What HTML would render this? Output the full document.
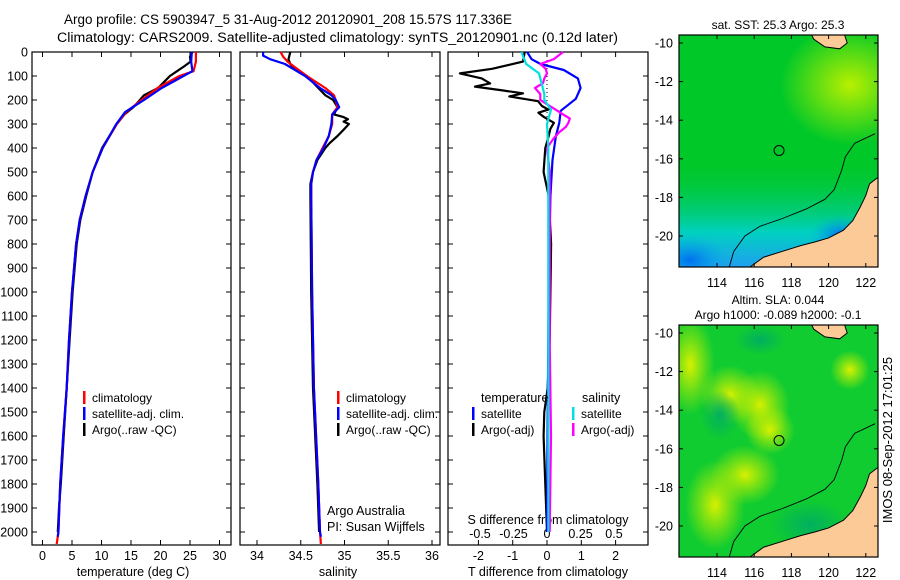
<!DOCTYPE html>
<html><head><meta charset="utf-8"><style>
html,body{margin:0;padding:0;background:#fff;}
svg{display:block;font-family:"Liberation Sans",sans-serif;}
</style></head><body>
<svg id="fig" width="900" height="580" viewBox="0 0 900 580">
<defs>
<radialGradient id="g1" cx="0.5" cy="0.5" r="0.5"><stop offset="0" stop-color="#b8f000"/><stop offset="1" stop-color="#b8f000" stop-opacity="0"/></radialGradient>
<radialGradient id="g2" cx="0.5" cy="0.5" r="0.5"><stop offset="0" stop-color="#0070f0"/><stop offset="1" stop-color="#00b0e0" stop-opacity="0"/></radialGradient>
<radialGradient id="g3" cx="0.5" cy="0.5" r="0.5"><stop offset="0" stop-color="#d8f000"/><stop offset="1" stop-color="#c0f000" stop-opacity="0"/></radialGradient>
<radialGradient id="g4" cx="0.5" cy="0.5" r="0.5"><stop offset="0" stop-color="#00b060"/><stop offset="1" stop-color="#00b060" stop-opacity="0"/></radialGradient>
<linearGradient id="lg1" x1="0" y1="0" x2="0" y2="1"><stop offset="0.55" stop-color="#00c840" stop-opacity="0"/><stop offset="0.85" stop-color="#00d0c0"/><stop offset="1" stop-color="#20a0f0"/></linearGradient>
<clipPath id="c1"><rect x="679" y="35" width="199" height="232"/></clipPath>
<clipPath id="c2"><rect x="679" y="325" width="199" height="232"/></clipPath>
</defs>
<g font-size="13.5">
<text x="64" y="24" textLength="448" lengthAdjust="spacingAndGlyphs">Argo profile: CS 5903947_5 31-Aug-2012 20120901_208 15.57S 117.336E</text>
<text x="57" y="42" textLength="561" lengthAdjust="spacingAndGlyphs">Climatology: CARS2009. Satellite-adjusted climatology: synTS_20120901.nc (0.12d later)</text>
</g>
<g id="plots"></g>
<g id="maps"></g>
<text x="892" y="440" font-size="13" text-anchor="middle" transform="rotate(-90 892 440)">IMOS 08-Sep-2012 17:01:25</text>
</svg>
<script>
const depthTicks=[0,100,200,300,400,500,600,700,800,900,1000,1100,1200,1300,1400,1500,1600,1700,1800,1900,2000];
const tTicks=[0,5,10,15,20,25,30];
const sTicks=[34,34.5,35,35.5,36];
const sTickLabels=["34","34.5","35","35.5","36"];
const dTTicks=[-2,-1,0,1,2];
const dSTicks=[-0.5,-0.25,0,0.25,0.5];
const dSTickLabels=["-0.5","-0.25","0","0.25","0.5"];
// temperature profiles
const tClimDepth=[0,40,80,100,150,200,250,300,400,500,600,700,800,1000,1200,1400,1600,1800,2000,2050];
const tClim=[26,26,25.6,23.2,19.5,16.8,14.2,12.6,10.2,8.5,7.3,6.3,5.7,5.0,4.5,4.1,3.5,3.0,2.7,2.4];
const tSatDepth=[0,40,80,100,150,200,250,300,400,500,600,700,800,1000,1200,1400,1600,1800,2000,2020];
const tSat=[25.3,25.2,25.4,23.9,20.2,17.2,14.0,12.5,10.2,8.5,7.3,6.3,5.7,5.0,4.5,4.1,3.5,3.0,2.7,2.6];
const tArgoDepth=[0,20,40,60,80,100,120,150,180,200,230,260,300,400,500,600,700,800,1000,1200,1400,1600,1800,1900,2000];
const tArgo=[25.4,25.0,25.1,24.0,22.8,21.6,20.8,19.6,17.2,16.5,15.4,13.9,12.6,10.1,8.5,7.4,6.4,5.8,5.1,4.6,4.1,3.6,3.1,2.8,2.6];
// salinity profiles
const sClimDepth=[0,20,40,60,100,150,180,200,230,260,300,350,400,450,500,550,600,1000,1400,1800,2000,2050];
const sClim=[34.27,34.3,34.35,34.42,34.57,34.78,34.88,34.9,34.92,34.86,34.86,34.82,34.75,34.68,34.64,34.62,34.62,34.63,34.65,34.7,34.72,34.73];
const sSatDepth=[0,15,30,50,100,150,180,200,230,260,300,350,400,450,500,550,600,1000,1400,1800,2000,2020];
const sSat=[34.07,34.07,34.15,34.32,34.55,34.72,34.85,34.9,34.94,34.86,34.85,34.82,34.76,34.68,34.64,34.62,34.62,34.63,34.65,34.7,34.72,34.73];
const sArgoDepth=[0,30,50,70,100,150,180,200,230,260,270,280,290,300,320,350,380,400,450,500,550,600,1000,1400,1800,2000];
const sArgo=[34.38,34.36,34.38,34.43,34.57,34.7,34.78,34.87,34.92,34.88,34.98,35.04,34.99,35.05,35.0,34.92,34.83,34.78,34.69,34.64,34.61,34.61,34.62,34.64,34.69,34.71];
// T differences
const dTArgoDepth=[0,40,70,89,110,131,144,160,172,185,205,225,240,253,270,295,320,350,400,500,600,800,1000,1200,1400,1500,1600,1800,2000];
const dTArgo=[-0.65,-0.7,-1.6,-2.54,-1.9,-1.66,-2.1,-1.3,-0.7,-1.1,-0.26,-0.15,0.04,-0.25,-0.1,0.2,0.1,0.05,-0.05,-0.1,0.05,0.12,0.1,0.08,0.02,-0.08,-0.1,-0.05,0];
const dTSatDepth=[0,30,50,75,110,150,195,245,295,350,450,600,1000,1500,2000];
const dTSat=[-0.58,-0.45,-0.19,0.49,0.9,0.98,0.84,0.4,0.36,0.26,0.16,0.1,0.05,0.02,0];
// S differences
const dSSatDepth=[0,30,50,89,130,175,200,240,300,400,600,1000,1500,2000];
const dSSat=[-0.19,-0.17,-0.155,-0.06,-0.04,-0.02,-0.02,0.03,0,0.01,0.01,0.01,0.01,0.01];
const dSArgoDepth=[0,30,50,70,89,110,130,150,175,200,235,260,277,295,312,335,360,400,500,800,1200,1600,2000];
const dSArgo=[0.12,0.05,-0.05,-0.01,0,-0.02,-0.03,-0.09,-0.05,-0.05,0.05,0.12,0.17,0.16,0.14,0.09,0.05,0,0.02,0.02,0.02,0.03,0.02];

const NS="http://www.w3.org/2000/svg";
const root=document.getElementById('plots');
function el(tag,attrs,parent){const e=document.createElementNS(NS,tag);for(const k in attrs)e.setAttribute(k,attrs[k]);(parent||root).appendChild(e);return e;}
const yTop=52,yBot=545;
function yD(d){return yTop+d*0.24;}
const panels=[
 {x0:32,x1:231,fx:v=>42.5+v*5.9,name:'temperature-panel'},
 {x0:240,x1:440,fx:v=>257+(v-34)*87.5,name:'salinity-panel'},
 {x0:448,x1:648,fx:v=>547+v*34.3,name:'t-difference-panel'}
];
const fS=v=>547+v*134;
function line(xs,ds,fx,color,name,g){
 let p='';for(let i=0;i<xs.length;i++){p+=(i?'L':'M')+fx(xs[i]).toFixed(1)+','+yD(ds[i]).toFixed(1);}
 const e=el('path',{d:p,fill:'none',stroke:color,'stroke-width':2.2,'stroke-linejoin':'round'},g);
 
 
}
panels.forEach((P,pi)=>{
 const g=el('g',{});
 
 
 el('rect',{x:P.x0,y:yTop,width:P.x1-P.x0,height:yBot-yTop,fill:'none',stroke:'#000','stroke-width':1.2},g);
 depthTicks.forEach(d=>{
  el('line',{x1:P.x0,x2:P.x0+5,y1:yD(d),y2:yD(d),stroke:'#000'},g);
  el('line',{x1:P.x1,x2:P.x1-5,y1:yD(d),y2:yD(d),stroke:'#000'},g);
  if(pi===0){const t=el('text',{x:P.x0-4,y:yD(d)+4.5,'font-size':12.5,'text-anchor':'end'},g);t.textContent=d;
   
   }
 });
});
const gp=root.children;
tTicks.forEach(v=>{const x=panels[0].fx(v);el('line',{x1:x,x2:x,y1:yBot,y2:yBot-5,stroke:'#000'},gp[0]);el('line',{x1:x,x2:x,y1:yTop,y2:yTop+5,stroke:'#000'},gp[0]);
 const t=el('text',{x:x,y:560,'font-size':12.5,'text-anchor':'middle'},gp[0]);t.textContent=v;});
sTicks.forEach((v,i)=>{const x=panels[1].fx(v);el('line',{x1:x,x2:x,y1:yBot,y2:yBot-5,stroke:'#000'},gp[1]);el('line',{x1:x,x2:x,y1:yTop,y2:yTop+5,stroke:'#000'},gp[1]);
 const t=el('text',{x:x,y:560,'font-size':12.5,'text-anchor':'middle'},gp[1]);t.textContent=sTickLabels[i];});
dTTicks.forEach(v=>{const x=panels[2].fx(v);el('line',{x1:x,x2:x,y1:yBot,y2:yBot-5,stroke:'#000'},gp[2]);el('line',{x1:x,x2:x,y1:yTop,y2:yTop+5,stroke:'#000'},gp[2]);
 const t=el('text',{x:x,y:560,'font-size':12.5,'text-anchor':'middle'},gp[2]);t.textContent=v;});
dSTicks.forEach((v,i)=>{const t=el('text',{x:fS(v),y:538,'font-size':12.5,'text-anchor':'middle'},gp[2]);t.textContent=dSTickLabels[i];});
function lbl(x,y,s,name,g,anchor){const t=el('text',{x:x,y:y,'font-size':12.5,'text-anchor':anchor||'middle'},g);t.textContent=s;
 
 }
lbl(133,576,'temperature (deg C)','x-axis-title-temperature',gp[0]);
lbl(338,576,'salinity','x-axis-title-salinity',gp[1]);
lbl(548,576,'T difference from climatology','x-axis-title-t-difference',gp[2]);
lbl(548,524,'S difference from climatology','x-axis-title-s-difference',gp[2]);
el('line',{x1:547,x2:547,y1:yTop,y2:yD(400),stroke:'#000','stroke-dasharray':'1,3'},gp[2]);
line(tArgo,tArgoDepth,panels[0].fx,'#000','argo-temperature-line',gp[0]);
line(tClim,tClimDepth,panels[0].fx,'#f00','climatology-temperature-line',gp[0]);
line(tSat,tSatDepth,panels[0].fx,'#0000ff','satellite-temperature-line',gp[0]);
line(sArgo,sArgoDepth,panels[1].fx,'#000','argo-salinity-line',gp[1]);
line(sClim,sClimDepth,panels[1].fx,'#f00','climatology-salinity-line',gp[1]);
line(sSat,sSatDepth,panels[1].fx,'#0000ff','satellite-salinity-line',gp[1]);
line(dTArgo,dTArgoDepth,panels[2].fx,'#000','argo-t-difference-line',gp[2]);
line(dTSat,dTSatDepth,panels[2].fx,'#0000ff','satellite-t-difference-line',gp[2]);
line(dSArgo,dSArgoDepth,fS,'#ff00ff','argo-s-difference-line',gp[2]);
line(dSSat,dSSatDepth,fS,'#00e0e0','satellite-s-difference-line',gp[2]);
function legend(x,y,items,name,g){
 const lg=el('g',{},g);
 
 
 items.forEach((it,i)=>{const yy=y+i*16;el('rect',{x:x,y:yy-11,width:2.5,height:13,fill:it[0]},lg);
  const t=el('text',{x:x+9,y:yy,'font-size':12},lg);t.textContent=it[1];});
}
legend(83,402,[['#f00','climatology'],['#0000ff','satellite-adj. clim.'],['#000','Argo(..raw -QC)']],'temperature-legend',gp[0]);
legend(337,402,[['#f00','climatology'],['#0000ff','satellite-adj. clim.'],['#000','Argo(..raw -QC)']],'salinity-legend',gp[1]);
lbl(481,402,'temperature','legend-title-temperature',gp[2],'start');
lbl(582,402,'salinity','legend-title-salinity',gp[2],'start');
legend(472,418,[['#0000ff','satellite'],['#000','Argo(-adj)']],'t-difference-legend',gp[2]);
legend(572,418,[['#00e0e0','satellite'],['#ff00ff','Argo(-adj)']],'s-difference-legend',gp[2]);
lbl(327,515,'Argo Australia','credit-line-1',gp[1],'start');
lbl(327,531,'PI: Susan Wijffels','credit-line-2',gp[1],'start');

const mroot=document.getElementById('maps');
const lonX=l=>717+(l-114)*18.6;
function drawMap(top,clip,kind,name,title){
 const g=el('g',{},mroot);
 
 
 const latY=la=>top+8+(-10-la)*19.3;
 const c=el('g',{'clip-path':'url(#'+clip+')'},g);
 if(kind===1){
  el('rect',{x:679,y:top,width:199,height:232,fill:'#00c828'},c);
  el('ellipse',{cx:850,cy:top+50,rx:70,ry:60,fill:'url(#g1)'},c);
  el('rect',{x:679,y:top,width:199,height:232,fill:'url(#lg1)'},c);
  el('ellipse',{cx:690,cy:top+225,rx:40,ry:25,fill:'url(#g2)'},c);
  el('ellipse',{cx:840,cy:top+200,rx:30,ry:20,fill:'url(#g2)'},c);
 } else {
  el('rect',{x:679,y:top,width:199,height:232,fill:'#10cc30'},c);
  [[690,top+40,25,50],[730,top+70,30,30],[760,top+80,30,35],[745,top+150,35,30],[715,top+180,30,45],[850,top+45,20,20],[770,top+105,25,25]].forEach(b=>el('ellipse',{cx:b[0],cy:b[1],rx:b[2],ry:b[3],fill:'url(#g3)'},c));
  [[760,top+15,25,15],[720,top+90,20,25],[810,top+200,40,25]].forEach(b=>el('ellipse',{cx:b[0],cy:b[1],rx:b[2],ry:b[3],fill:'url(#g4)'},c));
 }
 const coast=[[115.5,-21.8],[116.5,-21.1],[117.5,-20.8],[118.5,-20.5],[119.3,-20.3],[120,-20.1],[120.8,-19.7],[121.3,-19.2],[121.7,-18.5],[122,-17.9],[122.2,-17.3],[122.6,-17.0],[122.8,-17.0],[122.8,-21.8]];
 el('polygon',{points:coast.map(p=>lonX(p[0])+','+latY(p[1])).join(' '),fill:'#fcca96',stroke:'#000','stroke-width':1},c);
 const top2=[[119,-9.4],[119.2,-9.8],[119.8,-10.2],[120.6,-10.3],[121,-10.0],[120.8,-9.4]];
 el('polygon',{points:top2.map(p=>lonX(p[0])+','+latY(p[1])).join(' '),fill:'#fcca96',stroke:'#000','stroke-width':1},c);
 const shelf=[[114.6,-21.8],[114.9,-20.8],[115.5,-20],[116.3,-19.5],[117.5,-19.1],[118.8,-18.6],[119.8,-18.1],[120.3,-17.6],[120.7,-16.6],[120.9,-15.9],[121.4,-15.2],[122.5,-14.7]];
 el('polyline',{points:shelf.map(p=>lonX(p[0])+','+latY(p[1])).join(' '),fill:'none',stroke:'#000','stroke-width':0.9},c);
 const circ=el('circle',{cx:lonX(117.336),cy:latY(-15.57),r:5,fill:'none',stroke:'#000','stroke-width':1},g);
 
 
 el('rect',{x:679,y:top,width:199,height:232,fill:'none',stroke:'#000','stroke-width':1.2},g);
 [114,116,118,120,122].forEach(l=>{const x=lonX(l);el('line',{x1:x,x2:x,y1:top,y2:top+4,stroke:'#000'},g);el('line',{x1:x,x2:x,y1:top+232,y2:top+228,stroke:'#000'},g);
  const t=el('text',{x:x,y:top+252,'font-size':12.5,'text-anchor':'middle'},g);t.textContent=l;});
 [-10,-12,-14,-16,-18,-20].forEach(la=>{const y=latY(la);el('line',{x1:679,x2:683,y1:y,y2:y,stroke:'#000'},g);el('line',{x1:878,x2:874,y1:y,y2:y,stroke:'#000'},g);
  const t=el('text',{x:673,y:y+4.5,'font-size':12.5,'text-anchor':'end'},g);t.textContent=la;});
 title.forEach((s,i)=>{const t=el('text',{x:778,y:top-(title.length-1-i)*15-6,'font-size':12,'text-anchor':'middle'},g);t.textContent=s;});
}
drawMap(35,'c1',1,'sst-map',['sat. SST: 25.3 Argo: 25.3']);
drawMap(325,'c2',2,'sla-map',['Altim. SLA: 0.044','Argo h1000: -0.089 h2000: -0.1']);
</script>
</body></html>
